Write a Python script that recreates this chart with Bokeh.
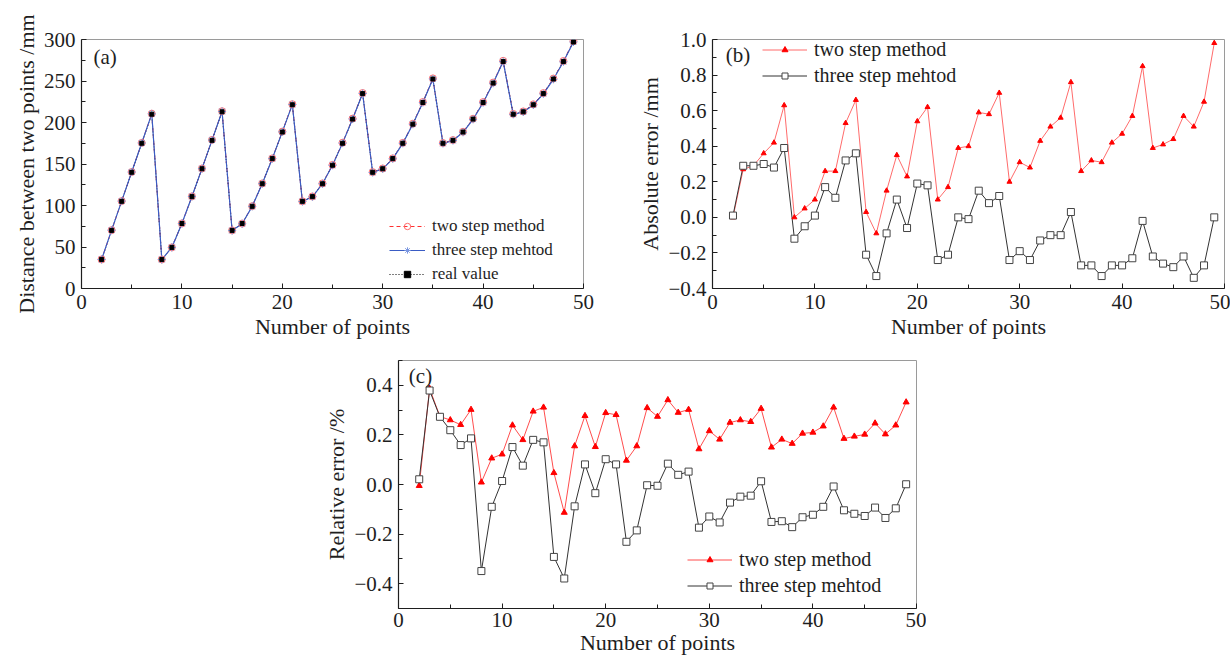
from bokeh.plotting import figure
from bokeh.models import (Range1d, FixedTicker, CustomJSTickFormatter, Legend,
                          LegendItem, Label, Spacer)
from bokeh.layouts import column, row
from bokeh.embed import file_html
from bokeh.resources import INLINE

# ---------------- data ----------------
points = list(range(2, 50))

real_value = [35, 70, 105, 140, 175, 210,
              35, 49.5, 78.3, 110.7, 144.3, 178.5, 212.9,
              70, 78.3, 99.0, 126.2, 156.5, 188.5, 221.4,
              105, 110.7, 126.2, 148.5, 175, 204.1, 234.8,
              140, 144.3, 156.5, 175, 198.0, 224.1, 252.4,
              175, 178.5, 188.5, 204.1, 224.1, 247.5, 273.4,
              210, 212.9, 221.4, 234.8, 252.4, 273.4, 297.0]

abs_err_two = [0.00, 0.27, 0.29, 0.36, 0.42, 0.63,
               0.00, 0.05, 0.10, 0.26, 0.26, 0.53, 0.66,
               0.03, -0.09, 0.15, 0.35, 0.23, 0.54, 0.62,
               0.10, 0.17, 0.39, 0.40, 0.59, 0.58, 0.70,
               0.20, 0.31, 0.28, 0.43, 0.51, 0.56, 0.76,
               0.26, 0.32, 0.31, 0.42, 0.47, 0.57, 0.85,
               0.39, 0.41, 0.44, 0.57, 0.51, 0.65, 0.98]

abs_err_three = [0.01, 0.29, 0.29, 0.30, 0.28, 0.39,
                 -0.12, -0.05, 0.01, 0.17, 0.11, 0.32, 0.36,
                 -0.21, -0.33, -0.09, 0.10, -0.06, 0.19, 0.18,
                 -0.24, -0.21, 0.00, -0.01, 0.15, 0.08, 0.12,
                 -0.24, -0.19, -0.24, -0.13, -0.10, -0.10, 0.03,
                 -0.27, -0.27, -0.33, -0.27, -0.27, -0.23, -0.02,
                 -0.22, -0.26, -0.28, -0.22, -0.34, -0.27, 0.00]

rel_err_two = [-0.005, 0.387, 0.274, 0.260, 0.241, 0.302,
               0.009, 0.106, 0.122, 0.239, 0.180, 0.295, 0.311,
               0.047, -0.113, 0.155, 0.277, 0.152, 0.289, 0.281,
               0.097, 0.155, 0.309, 0.274, 0.341, 0.290, 0.302,
               0.143, 0.216, 0.182, 0.250, 0.260, 0.253, 0.306,
               0.150, 0.182, 0.165, 0.206, 0.210, 0.235, 0.311,
               0.185, 0.194, 0.202, 0.247, 0.203, 0.239, 0.332]

rel_err_three = [0.021, 0.379, 0.273, 0.219, 0.159, 0.186,
                 -0.349, -0.090, 0.014, 0.151, 0.076, 0.180, 0.170,
                 -0.292, -0.379, -0.088, 0.081, -0.035, 0.102, 0.081,
                 -0.231, -0.185, -0.003, -0.005, 0.084, 0.039, 0.052,
                 -0.174, -0.129, -0.153, -0.073, -0.049, -0.045, 0.013,
                 -0.151, -0.148, -0.172, -0.132, -0.122, -0.090, -0.008,
                 -0.104, -0.118, -0.127, -0.093, -0.135, -0.096, 0.001]

# measured distances derived from the read errors
two_step_distance = [r + e for r, e in zip(real_value, abs_err_two)]
three_step_distance = [r + e for r, e in zip(real_value, abs_err_three)]

x_ticks = [0, 10, 20, 30, 40, 50]
x_minor = [5, 15, 25, 35, 45]
a_y_ticks = [0, 50, 100, 150, 200, 250, 300]
a_y_minor = [25, 75, 125, 175, 225, 275]
b_y_ticks = [-0.4, -0.2, 0.0, 0.2, 0.4, 0.6, 0.8, 1.0]
b_y_minor = [-0.3, -0.1, 0.1, 0.3, 0.5, 0.7, 0.9]
c_y_ticks = [-0.4, -0.2, 0.0, 0.2, 0.4]
c_y_minor = [-0.5, -0.3, -0.1, 0.1, 0.3, 0.5]

label_two = "two step method"
label_three = "three step mehtod"
label_real = "real value"

FONT = "Liberation Serif"
INK = "#1e1e1e"

dec_fmt = CustomJSTickFormatter(code="""
    if (Math.abs(tick) < 1e-9) { return "0.0"; }
    return (tick < 0 ? "\u2212" : "") + Math.abs(tick).toFixed(1);
""")


def make_fig(width, height, left, right, top, bottom, yr):
    p = figure(width=width, height=height, x_range=Range1d(0, 50), y_range=yr,
               output_backend="svg", toolbar_location=None,
               min_border_left=left, min_border_right=right,
               min_border_top=top, min_border_bottom=bottom)
    p.xgrid.visible = False
    p.ygrid.visible = False
    p.outline_line_color = "#9a9a9a"
    p.outline_line_width = 1
    p.background_fill_color = "white"
    p.border_fill_color = "white"
    for ax in (p.xaxis[0], p.yaxis[0]):
        ax.axis_line_color = INK
        ax.axis_line_width = 1.2
        ax.major_tick_line_color = INK
        ax.minor_tick_line_color = INK
        ax.major_tick_in = 5
        ax.major_tick_out = 0
        ax.minor_tick_in = 4
        ax.minor_tick_out = 0
        ax.major_label_text_font = FONT
        ax.major_label_text_font_size = "21px"
        ax.major_label_text_color = INK
        ax.axis_label_text_font = FONT
        ax.axis_label_text_font_size = "22px"
        ax.axis_label_text_font_style = "normal"
        ax.axis_label_text_color = INK
        ax.major_label_standoff = 6
        ax.axis_label_standoff = 2
    p.xaxis.ticker = FixedTicker(ticks=x_ticks, minor_ticks=x_minor)
    p.xaxis.axis_label = "Number of points"
    return p


def style_legend(lg, size, glyph_w, glyph_h, gap):
    lg.glyph_width = glyph_w
    lg.glyph_height = glyph_h
    lg.label_height = glyph_h
    lg.spacing = gap
    lg.padding = 0
    lg.margin = 0
    lg.border_line_color = None
    lg.background_fill_alpha = 0
    lg.label_text_font = FONT
    lg.label_text_font_size = size
    lg.label_text_color = INK
    lg.label_standoff = 7


# ---------------- panel (a) ----------------
pa = make_fig(608, 342, 81, 25, 39, 54, Range1d(0, 300))
pa.yaxis.ticker = FixedTicker(ticks=a_y_ticks, minor_ticks=a_y_minor)
pa.yaxis.axis_label = "Distance between two points /mm"

ra1 = pa.line(points, two_step_distance, line_color="#ff3030", line_dash="4 3", line_width=1)
rc1 = pa.line(points, real_value, line_color="#000000", line_dash="1 2", line_width=1)
rb1 = pa.line(points, three_step_distance, line_color="#3a5cc4", line_width=1.2)
ra2 = pa.scatter(points, two_step_distance, marker="circle", size=7,
                 fill_color=None, line_color="#ff6a6a", line_width=1)
rb2 = pa.scatter(points, three_step_distance, marker="asterisk", size=8,
                 line_color="#7a96e0", line_width=1)
rc2 = pa.scatter(points, real_value, marker="square", size=4,
                 fill_color="#000000", line_color="#000000")

lga = Legend(items=[LegendItem(label=label_two, renderers=[ra1, ra2]),
                    LegendItem(label=label_three, renderers=[rb1, rb2]),
                    LegendItem(label=label_real, renderers=[rc1, rc2])],
             location=(308, 4))
style_legend(lga, "17px", 36, 16, 4)
pa.add_layout(lga)
pa.add_layout(Label(x=1.2, y=293, text="(a)", text_font=FONT, text_font_size="21px",
                    text_color=INK, text_baseline="top"))

# ---------------- panel (b) ----------------
pb = make_fig(622, 342, 104, 6, 36, 54, Range1d(-0.4, 1.0))
pb.yaxis.ticker = FixedTicker(ticks=b_y_ticks, minor_ticks=b_y_minor)
pb.yaxis.formatter = dec_fmt
pb.yaxis.axis_label = "Absolute error /mm"

rb_t1 = pb.line(points, abs_err_two, line_color="#ff6b6b", line_width=1)
rb_h1 = pb.line(points, abs_err_three, line_color="#333333", line_width=1)
rb_t2 = pb.scatter(points, abs_err_two, marker="triangle", size=5,
                   fill_color="#ff0000", line_color="#ff0000")
rb_h2 = pb.scatter(points, abs_err_three, marker="square", size=7,
                   fill_color="white", line_color="#444444", line_width=1)

lgb = Legend(items=[LegendItem(label=label_two, renderers=[rb_t1, rb_t2]),
                    LegendItem(label=label_three, renderers=[rb_h1, rb_h2])],
             location=(50, 201))
style_legend(lgb, "20px", 45, 15, 3)
pb.add_layout(lgb)
pb.add_layout(Label(x=1.3, y=0.978, text="(b)", text_font=FONT, text_font_size="21px",
                    text_color=INK, text_baseline="top"))

# ---------------- panel (c) ----------------
pc = make_fig(616, 318, 88, 10, 18, 52, Range1d(-0.5, 0.5))
pc.yaxis.ticker = FixedTicker(ticks=c_y_ticks, minor_ticks=c_y_minor)
pc.yaxis.formatter = dec_fmt
pc.yaxis.axis_label = "Relative error /%"
pc.xaxis.major_label_standoff = 4
pc.xaxis.axis_label_standoff = 0

rc_t1 = pc.line(points, rel_err_two, line_color="#ff4d4d", line_width=1)
rc_h1 = pc.line(points, rel_err_three, line_color="#333333", line_width=1)
rc_t2 = pc.scatter(points, rel_err_two, marker="triangle", size=6,
                   fill_color="#ff0000", line_color="#ff0000")
rc_h2 = pc.scatter(points, rel_err_three, marker="square", size=7,
                   fill_color="white", line_color="#444444", line_width=1)

lgc = Legend(items=[LegendItem(label=label_two, renderers=[rc_t1, rc_t2]),
                    LegendItem(label=label_three, renderers=[rc_h1, rc_h2])],
             location=(289, 11))
style_legend(lgc, "20px", 45, 15, 3)
pc.add_layout(lgc)
pc.add_layout(Label(x=1.0, y=0.485, text="(c)", text_font=FONT, text_font_size="21px",
                    text_color=INK, text_baseline="top"))

layout = column(row(pa, pb), row(Spacer(width=310, height=318), pc))

open("out.html", "w").write(file_html(layout, INLINE))
